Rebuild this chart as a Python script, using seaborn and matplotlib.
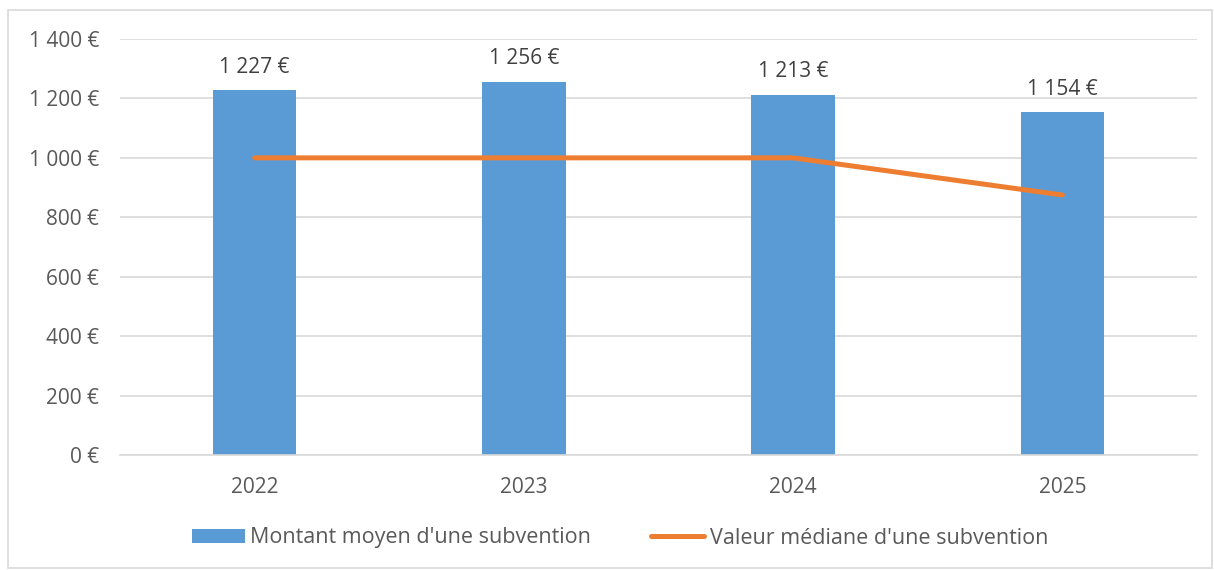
import matplotlib
matplotlib.use("Agg")
import matplotlib.pyplot as plt
import seaborn as sns
from matplotlib.patches import Patch, Rectangle
from matplotlib.lines import Line2D
from matplotlib.ticker import FuncFormatter

years = ["2022", "2023", "2024", "2025"]
mean_values = [1227, 1256, 1213, 1154]
median_values = [1000, 1000, 1000, 875]
mean_label = "Montant moyen d'une subvention"
median_label = "Valeur médiane d'une subvention"

BLUE = "#5B9BD5"
ORANGE = "#ED7D31"
TXT = "#595959"
GRID = "#D9D9D9"
FS = 15

sns.set_theme(style="white")
plt.rcParams["font.family"] = ["Open Sans", "DejaVu Sans"]

fig = plt.figure(figsize=(12.14, 5.70), dpi=100)
ax = fig.add_axes([120/1214, 1-455/570, (1197-120)/1214, (455-39)/570])

sns.barplot(x=years, y=mean_values, color=BLUE, width=0.31, saturation=1,
            linewidth=0, ax=ax, zorder=2)
sns.pointplot(x=years, y=median_values, color=ORANGE, markers="", linestyles="-",
              linewidth=3.6, ax=ax, zorder=3)

def fmt(v):
    return f"{int(v):,}".replace(",", " ") + " €"

for i, v in enumerate(mean_values):
    ax.annotate(fmt(v), (i, v), xytext=(0, 9), textcoords="offset points",
                ha="center", va="bottom", fontsize=FS, color="#404040")

ax.set_ylim(0, 1400)
ax.set_xlim(-0.5, 3.5)
ax.set_yticks(range(0, 1401, 200))
ax.yaxis.set_major_formatter(FuncFormatter(lambda v, p: fmt(v)))
ax.grid(axis="y", color=GRID, linewidth=1.2, zorder=0)
ax.set_axisbelow(True)
for s in ["top", "right", "left"]:
    ax.spines[s].set_visible(False)
ax.spines["bottom"].set_color(GRID)
ax.spines["bottom"].set_linewidth(1.2)
ax.tick_params(axis="y", length=0, pad=15, labelsize=FS, labelcolor=TXT)
ax.tick_params(axis="x", length=0, pad=16, labelsize=FS, labelcolor=TXT)
ax.set_xlabel("")
ax.set_ylabel("")

handles = [Patch(facecolor=BLUE, edgecolor="none"),
           Line2D([0], [0], color=ORANGE, linewidth=3.6)]
fig.legend(handles, [mean_label, median_label], loc="center",
           bbox_to_anchor=(620/1214, 1-538/570), ncol=2, frameon=False,
           fontsize=15.5, labelcolor=TXT, handlelength=2.45, handleheight=0.65,
           handletextpad=0.25, columnspacing=2.8)

fig.patches.append(Rectangle((8/1214, 2/570), (1212-8)/1214, (560-2)/570,
                             transform=fig.transFigure, fill=False,
                             edgecolor="#D9D9D9", linewidth=1.2))

fig.savefig("out.png", dpi=100, facecolor="white")
